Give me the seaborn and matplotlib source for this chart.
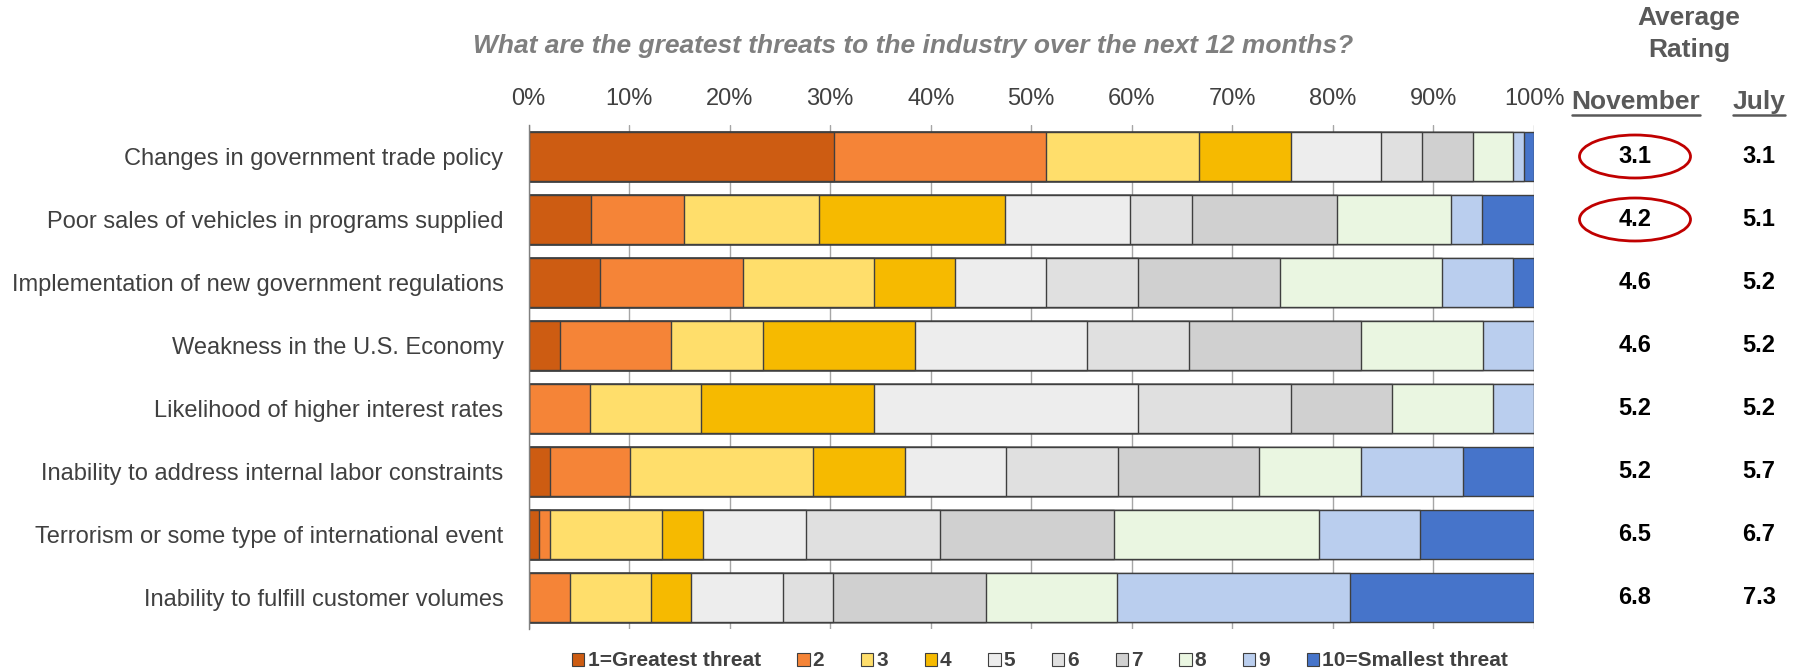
import numpy as np
import pandas as pd
import matplotlib
matplotlib.use("Agg")
import matplotlib.pyplot as plt
from matplotlib.patches import Patch, Ellipse
from matplotlib.lines import Line2D
import seaborn as sns

# ---------------- data ----------------
categories = [
    "Changes in government trade policy",
    "Poor sales of vehicles in programs supplied",
    "Implementation of new government regulations",
    "Weakness in the U.S. Economy",
    "Likelihood of higher interest rates",
    "Inability to address internal labor constraints",
    "Terrorism or some type of international event",
    "Inability to fulfill customer volumes",
]
levels = ["1=Greatest threat", "2", "3", "4", "5", "6", "7", "8", "9", "10=Smallest threat"]

# share of responses (%) per rating level, one list per category
r_trade   = [30.4, 21.1, 15.2, 9.1, 9.0, 4.1, 5.0, 4.0, 1.1, 1.0]
r_sales   = [6.2, 9.3, 13.4, 18.5, 12.4, 6.2, 14.4, 11.3, 3.1, 5.2]
r_regs    = [7.1, 14.2, 13.1, 8.0, 9.1, 9.1, 14.1, 16.2, 7.0, 2.1]
r_economy = [3.1, 11.1, 9.1, 15.1, 17.1, 10.2, 17.1, 12.1, 5.1, 0.0]
r_rates   = [0.0, 6.1, 11.1, 17.2, 26.2, 15.2, 10.1, 10.0, 4.1, 0.0]
r_labor   = [2.1, 8.0, 18.2, 9.1, 10.1, 11.1, 14.1, 10.1, 10.1, 7.1]
r_terror  = [1.0, 1.1, 11.2, 4.1, 10.2, 13.3, 17.3, 20.4, 10.1, 11.3]
r_volumes = [0.0, 4.1, 8.1, 4.0, 9.1, 5.0, 15.2, 13.0, 23.2, 18.3]

november = ["3.1", "4.2", "4.6", "4.6", "5.2", "5.2", "6.5", "6.8"]
july     = ["3.1", "5.1", "5.2", "5.2", "5.2", "5.7", "6.7", "7.3"]
circled  = [0, 1]   # rows whose November value is circled

tick_values = [0, 10, 20, 30, 40, 50, 60, 70, 80, 90, 100]
tick_labels = [f"{v}%" for v in tick_values]

colors = ["#CD5C12", "#F58437", "#FFDE6B", "#F6BA00", "#EDEDED",
          "#E0E0E0", "#D0D0D0", "#EAF6E1", "#BACEEE", "#4674CA"]

rows = [r_trade, r_sales, r_regs, r_economy, r_rates, r_labor, r_terror, r_volumes]
df = pd.DataFrame(rows, index=categories, columns=levels)
cum = df.cumsum(axis=1)

# ---------------- style ----------------
sns.set_style("white")
plt.rcParams["font.family"] = ["Liberation Sans", "DejaVu Sans"]

W, H = 1802, 672
fig = plt.figure(figsize=(W / 100, H / 100), dpi=100)
ax = fig.add_axes([528.5 / W, 1 - 629 / H, (1534 - 528.5) / W, (629 - 125) / H])

# stacked bars: draw cumulative totals from last level to first
for i in range(len(levels) - 1, -1, -1):
    plot_df = pd.DataFrame({"cat": categories, "val": cum[levels[i]].values})
    sns.barplot(data=plot_df, x="val", y="cat", orient="h", color=colors[i],
                saturation=1, width=0.78, edgecolor="#3F3F3F", linewidth=1.0,
                ax=ax, zorder=2)

ax.set_xlim(0, 100)
ax.set_ylim(len(categories) - 0.5, -0.5)
ax.set_xlabel("")
ax.set_ylabel("")
ax.xaxis.tick_top()
ax.set_xticks(tick_values)
ax.set_xticklabels(tick_labels, fontsize=17, color="#404040")
ax.tick_params(axis="x", length=0, pad=11)
ax.tick_params(axis="y", length=0, pad=18, labelsize=17, labelcolor="#404040")
ax.grid(axis="x", color="#A6A6A6", linewidth=1.0, zorder=0)
ax.grid(axis="y", visible=False)
ax.set_axisbelow(True)
for s in ["top", "right", "bottom"]:
    ax.spines[s].set_visible(False)
ax.spines["left"].set_color("#808080")
ax.spines["left"].set_linewidth(1.0)

# title
fig.text(913 / W, 1 - 46 / H,
         "What are the greatest threats to the industry over the next 12 months?",
         ha="center", va="center", fontsize=19, fontweight="bold",
         fontstyle="italic", color="#7F7F7F")

# right-hand rating columns
fig.text(1689 / W, 1 - 18 / H, "Average", ha="center", va="center",
         fontsize=19, fontweight="bold", color="#595959")
fig.text(1689 / W, 1 - 50 / H, "Rating", ha="center", va="center",
         fontsize=19, fontweight="bold", color="#595959")
t_nov = fig.text(1636 / W, 1 - 102 / H, "November", ha="center", va="center",
                 fontsize=19, fontweight="bold", color="#595959")
t_jul = fig.text(1759 / W, 1 - 102 / H, "July", ha="center", va="center",
                 fontsize=19, fontweight="bold", color="#595959")

fig.canvas.draw()
renderer = fig.canvas.get_renderer()
for t in (t_nov, t_jul):
    bb = t.get_window_extent(renderer)
    yline = bb.y0 - 1
    fig.add_artist(Line2D([bb.x0 / W, bb.x1 / W], [yline / H, yline / H],
                          transform=fig.transFigure, color="#595959", linewidth=1.8))

# row positions in figure coordinates
for i in range(len(categories)):
    disp = ax.transData.transform((0, i))
    yf = fig.transFigure.inverted().transform(disp)[1]
    fig.text(1635 / W, yf, november[i], ha="center", va="center",
             fontsize=17, fontweight="bold", color="black")
    fig.text(1759 / W, yf, july[i], ha="center", va="center",
             fontsize=17, fontweight="bold", color="black")
    if i in circled:
        fig.add_artist(Ellipse((1635 / W, yf), 111 / W, 43 / H,
                               transform=fig.transFigure, fill=False,
                               edgecolor="#C00000", linewidth=2.0))

# legend
handles = [Patch(facecolor=c, edgecolor="#3F3F3F", linewidth=0.8) for c in colors]
leg = fig.legend(handles, levels, loc="center", bbox_to_anchor=(1040 / W, 1 - 661 / H),
                 ncol=10, frameon=False, handlelength=0.6, handleheight=0.6,
                 handletextpad=0.15, columnspacing=1.75,
                 prop={"weight": "bold", "size": 15})
for txt in leg.get_texts():
    txt.set_color("#404040")

fig.savefig("out.png", dpi=100)
